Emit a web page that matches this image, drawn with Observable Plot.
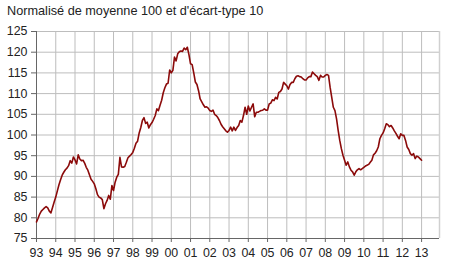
<!DOCTYPE html>
<html>
<head>
<meta charset="utf-8">
<script src="https://cdn.jsdelivr.net/npm/d3@7"></script>
<script src="https://cdn.jsdelivr.net/npm/@observablehq/plot@0.6"></script>
<style>
  html, body { margin: 0; padding: 0; background: #fff; }
  #title { font-family: "Liberation Sans", Arial, sans-serif; font-size: 12.7px; color: #222;
           height: 20px; line-height: 23px; padding-left: 7px; white-space: nowrap; }
</style>
</head>
<body>
<div id="title">Normalisé de moyenne 100 et d'écart-type 10</div>
<div id="chart"></div>
<script>
const title = "Normalisé de moyenne 100 et d'écart-type 10";
const startYear = 1993;
// monthly values, Jan 1993 .. Jan 2013
const values = [
  79.0, 79.9, 80.9, 81.6, 82.0, 82.4, 82.7, 82.4, 81.6, 81.2, 82.5, 83.8,
  85.0, 86.5, 88.0, 89.2, 90.3, 91.0, 91.6, 92.0, 92.6, 93.8, 93.2, 94.7,
  94.0, 93.0, 95.2, 94.2, 93.8, 93.9, 93.2, 92.2, 91.5, 90.4, 89.3, 88.8,
  88.2, 87.0, 85.6, 85.0, 84.8, 84.4, 82.2, 83.4, 84.2, 85.4, 84.5, 87.8,
  86.6, 88.6, 89.8, 90.5, 94.6, 92.3, 92.2, 92.4, 93.4, 94.5, 94.9, 95.3,
  95.8, 96.8, 98.0, 98.5, 100.5, 101.8, 103.5, 104.2, 102.8, 103.1, 101.7, 102.5,
  103.0, 103.8, 104.7, 106.3, 105.9, 107.2, 108.4, 110.2, 111.4, 112.3, 112.5, 115.7,
  115.0, 115.6, 118.8, 117.9, 119.6, 120.1, 120.3, 120.2, 121.0, 120.6, 121.2, 119.4,
  117.2, 117.0, 115.0, 112.8, 112.2, 110.7, 108.7, 108.0, 107.3, 106.7, 106.8, 106.5,
  105.9, 105.7, 106.0, 105.0, 104.7, 104.2, 103.5, 102.6, 102.0, 101.5, 101.0, 100.7,
  101.1, 101.9, 101.0, 101.9, 101.1, 101.8, 102.3, 103.5, 103.1, 104.7, 106.7, 105.0,
  107.0, 105.8, 106.7, 107.5, 104.4, 105.5, 105.5, 105.7, 105.9, 106.0, 106.3, 106.0,
  106.0, 107.5, 107.7, 108.5, 108.3, 109.1, 108.7, 110.3, 110.5, 111.1, 112.7, 112.3,
  111.9, 111.1, 112.2, 112.7, 112.7, 113.6, 114.2, 114.3, 114.1, 114.0, 113.6, 113.3,
  113.3, 113.8, 114.1, 114.1, 115.2, 114.8, 114.4, 114.1, 113.2, 114.4, 114.0, 114.0,
  114.4, 114.6, 114.4, 111.5, 109.1, 106.7, 105.9, 103.9, 101.1, 98.7, 96.7, 95.1,
  93.9, 92.7, 93.5, 92.3, 91.5, 91.1, 90.3, 91.1, 91.6, 91.9, 91.6, 91.9,
  92.2, 92.5, 92.7, 92.9, 93.4, 93.9, 95.2, 95.6, 96.2, 97.1, 99.1, 99.9,
  100.5, 101.5, 102.7, 102.5, 102.0, 102.3, 101.7, 101.0, 100.4, 99.7, 99.1, 100.3,
  99.9, 99.9, 98.7, 97.1, 96.5, 95.5, 95.1, 95.5, 94.3, 94.9, 94.7, 94.3,
  93.9
];
const tickYears = d3.range(1993, 2014);
const tickLabels = tickYears.map(y => String(y % 100).padStart(2, "0"));
const yTicks = [75, 80, 85, 90, 95, 100, 105, 110, 115, 120, 125];
const xEnd = 2013.93;

const data = values.map((v, i) => ({t: startYear + i / 12, v}));

const chart = Plot.plot({
  width: 450,
  height: 259,
  marginTop: 11,
  marginLeft: 36,
  marginRight: 11,
  marginBottom: 41,
  style: {fontFamily: "'Liberation Sans', Arial, sans-serif", fontSize: "12.4px", color: "#222", background: "#fff"},
  x: {domain: [1993, xEnd], label: null},
  y: {domain: [75, 125], label: null},
  marks: [
    Plot.gridX(tickYears, {stroke: "#bdbdbd", strokeOpacity: 1}),
    Plot.gridY(yTicks, {stroke: "#bdbdbd", strokeOpacity: 1}),
    Plot.ruleX([xEnd], {stroke: "#d0d0d0", strokeWidth: 1.5}),
    Plot.ruleX([1993], {stroke: "#666"}),
    Plot.ruleY([75], {stroke: "#666"}),
    Plot.axisY(yTicks, {tickSize: 5, tickPadding: 4, fontSize: 12.4, stroke: "#666", fill: "#222", label: null}),
    Plot.axisX(tickYears, {tickSize: 4, tickPadding: 6, fontSize: 12.4, stroke: "#666", fill: "#222",
      tickFormat: d => tickLabels[tickYears.indexOf(d)], label: null}),
    Plot.lineY(data, {x: "t", y: "v", stroke: "#8b0a0a", strokeWidth: 1.6})
  ]
});
document.getElementById("chart").append(chart);
</script>
</body>
</html>
